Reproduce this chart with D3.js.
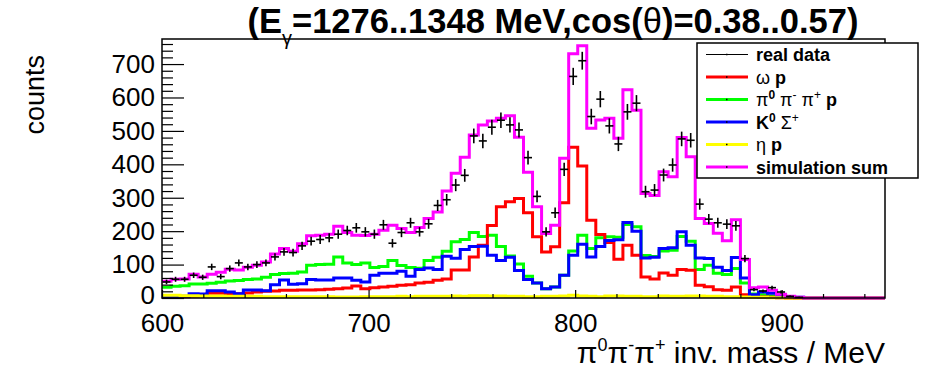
<!DOCTYPE html>
<html>
<head>
<meta charset="utf-8">
<script src="https://cdn.jsdelivr.net/npm/d3@7"></script>
<style>
  body { margin: 0; background: #fff; }
  text { font-family: "Liberation Sans", Arial, Helvetica, sans-serif; }
</style>
</head>
<body>
<svg id="chart"></svg>
<script>
// 80 bins of 4.375 MeV between 600 and 950 MeV
let binLow = 600, binHigh = 950, nBins = 80;

// real data counts per bin
let realData = [48, 56, 56, 68, 62, 93, 64, 88, 105, 93,
    100, 105, 123, 138, 136, 156, 170, 175, 180, 191,
    202, 210, 198, 191, 219, 164, 196, 225, 198, 222,
    277, 294, 338, 367, 485, 470, 511, 532, 518, 503,
    420, 304, 198, 255, 385, 663, 710, 543, 595, 515,
    461, 557, 583, 318, 323, 368, 398, 476, 472, 281,
    236, 225, 221, 216, 118, 25, 21, 31, 18, 5,
    2, 0, 0, 0, 0, 0, 0, 0, 0, 0];

// omega p simulation
let omegaP = [2, 3, 4, 6, 10, 14, 14, 12, 13, 15,
    18, 20, 21, 23, 23, 24, 24, 25, 26, 28,
    30, 36, 28, 31, 33, 35, 38, 40, 45, 47,
    53, 57, 84, 84, 123, 158, 217, 273, 288, 298,
    255, 183, 138, 153, 285, 451, 395, 233, 190, 166,
    116, 158, 128, 63, 57, 75, 68, 85, 83, 38,
    34, 25, 23, 33, 10, 5, 3, 2, 1, 0,
    0, 0, 0, 0, 0, 0, 0, 0, 0, 0];

// pi0 pi- pi+ p simulation
let threePiP = [32, 35, 37, 42, 42, 44, 47, 51, 52, 55,
    57, 62, 70, 73, 74, 78, 98, 100, 101, 123,
    105, 100, 105, 91, 94, 112, 97, 91, 89, 112,
    122, 140, 168, 175, 196, 184, 188, 154, 126, 102,
    65, 45, 28, 33, 68, 141, 188, 148, 180, 183,
    182, 220, 213, 127, 124, 141, 143, 184, 170, 85,
    98, 74, 70, 88, 45, 12, 10, 6, 3, 2,
    1, 0, 0, 0, 0, 0, 0, 0, 0, 0];

// K0 Sigma+ simulation
let kSigma = [2, 3, 5, 13, 12, 22, 22, 18, 13, 24,
    24, 22, 40, 54, 41, 43, 55, 54, 54, 60,
    60, 53, 48, 68, 74, 74, 80, 65, 85, 90,
    85, 125, 119, 145, 154, 155, 128, 112, 122, 82,
    55, 45, 28, 33, 68, 128, 161, 123, 154, 172,
    174, 226, 200, 120, 122, 148, 150, 198, 158, 120,
    118, 92, 82, 121, 60, 10, 18, 14, 7, 3,
    2, 0, 0, 0, 0, 0, 0, 0, 0, 0];

// eta p simulation
let etaP = [8, 8, 7, 7, 6, 6, 6, 5, 5, 5,
    5, 4, 4, 4, 4, 4, 4, 4, 4, 3,
    3, 3, 4, 4, 4, 4, 5, 4, 5, 5,
    5, 5, 6, 5, 7, 7, 6, 6, 5, 5,
    4, 4, 5, 5, 6, 8, 6, 5, 4, 6,
    6, 5, 5, 4, 4, 6, 5, 5, 6, 6,
    5, 5, 4, 4, 3, 2, 2, 1, 1, 0,
    0, 0, 0, 0, 0, 0, 0, 0, 0, 0];

// simulation sum
let simSum = [50, 56, 57, 71, 63, 71, 77, 86, 84, 92,
    98, 108, 132, 148, 140, 162, 186, 188, 191, 215,
    196, 188, 187, 191, 203, 218, 208, 196, 211, 238,
    257, 320, 373, 421, 488, 518, 530, 538, 545, 481,
    376, 273, 193, 218, 418, 731, 755, 508, 533, 538,
    478, 623, 562, 313, 307, 378, 363, 480, 423, 238,
    223, 194, 171, 234, 115, 31, 33, 23, 11, 5,
    2, 0, 0, 0, 0, 0, 0, 0, 0, 0];

let xMajorTicks = [600, 700, 800, 900];
let yMajorTicks = [0, 100, 200, 300, 400, 500, 600, 700];

let series = [
    {name: "threePiP", values: threePiP, color: "#00ff00"},
    {name: "omegaP", values: omegaP, color: "#ff0000"},
    {name: "kSigma", values: kSigma, color: "#0000ff"},
    {name: "etaP", values: etaP, color: "#ffff00"},
    {name: "simSum", values: simSum, color: "#ff00ff"}
];

let svgWidth = 931, svgHeight = 372;
let margin = {top: 39, left: 162, right: 46, bottom: 74};
let width = svgWidth - margin.left - margin.right;
let height = svgHeight - margin.top - margin.bottom;
let binWidth = (binHigh - binLow) / nBins;

let svg = d3.select("#chart")
    .attr("width", svgWidth)
    .attr("height", svgHeight);

let x = d3.scaleLinear().domain([binLow, binHigh]).range([margin.left, margin.left + width]);
let y = d3.scaleLinear().domain([0, 775]).range([margin.top + height, margin.top]);

// step outline of a histogram
function histPath(values) {
    let pts = values.map(function (v, i) {
        return [binLow + i * binWidth, v];
    });
    pts.push([binHigh, values[values.length - 1]]);
    return d3.line()
        .x(function (d) { return x(d[0]); })
        .y(function (d) { return y(d[1]); })
        .curve(d3.curveStepAfter)(pts);
}

series.forEach(function (s) {
    svg.append("path")
        .attr("d", histPath(s.values))
        .attr("fill", "none")
        .attr("stroke", s.color)
        .attr("stroke-width", 3);
});

// data points with error bars
let pts = svg.append("g").attr("stroke", "#000").attr("stroke-width", 1.6);
realData.forEach(function (v, i) {
    if (v <= 0) return;
    let cx = x(binLow + (i + 0.5) * binWidth);
    let err = Math.sqrt(v);
    pts.append("line")
        .attr("x1", cx).attr("x2", cx)
        .attr("y1", y(v - err)).attr("y2", y(v + err));
    pts.append("line")
        .attr("x1", cx - 4).attr("x2", cx + 4)
        .attr("y1", y(v)).attr("y2", y(v));
});

// axes, ticks pointing inside the frame
let xMinor = d3.range(600, 951, 20).filter(function (d) { return d % 100 !== 0; });
svg.append("g")
    .attr("transform", "translate(0," + (margin.top + height) + ")")
    .call(d3.axisBottom(x).tickValues(xMinor).tickSize(-4).tickFormat(""))
    .call(function (g) { g.select(".domain").remove(); });
let xAxis = svg.append("g")
    .attr("transform", "translate(0," + (margin.top + height) + ")")
    .call(d3.axisBottom(x).tickValues(xMajorTicks).tickSize(-8).tickPadding(16));
xAxis.select(".domain").remove();
xAxis.selectAll("text").attr("font-size", 26).attr("fill", "#000")
    .attr("font-family", "Liberation Sans, Arial, sans-serif");

let yMinor = d3.range(0, 775, 20).filter(function (d) { return d % 100 !== 0; });
svg.append("g")
    .attr("transform", "translate(" + margin.left + ",0)")
    .call(d3.axisLeft(y).tickValues(yMinor).tickSize(-11).tickFormat(""))
    .call(function (g) { g.select(".domain").remove(); });
let yAxis = svg.append("g")
    .attr("transform", "translate(" + margin.left + ",0)")
    .call(d3.axisLeft(y).tickValues(yMajorTicks).tickSize(-22).tickPadding(7));
yAxis.select(".domain").remove();
yAxis.selectAll("text").attr("font-size", 26).attr("fill", "#000")
    .attr("font-family", "Liberation Sans, Arial, sans-serif");
// lift the zero label a little so it clears the 600 label
yAxis.selectAll("text").filter(function (d) { return d === 0; }).attr("dy", "0.2em");
svg.selectAll(".tick line").attr("stroke", "#000").attr("stroke-width", 1.2);

// frame
svg.append("rect")
    .attr("x", margin.left).attr("y", margin.top)
    .attr("width", width).attr("height", height)
    .attr("fill", "none").attr("stroke", "#000").attr("stroke-width", 1.5);

// axis titles
svg.append("text")
    .attr("transform", "translate(44,55) rotate(-90)")
    .attr("text-anchor", "end")
    .attr("font-size", 27)
    .text("counts");

let xt = svg.append("text")
    .attr("x", margin.left + width).attr("y", 363)
    .attr("text-anchor", "end")
    .attr("font-size", 30);
xt.append("tspan").text("π");
xt.append("tspan").attr("dy", -12).attr("font-size", 18).text("0");
xt.append("tspan").attr("dy", 12).text("π");
xt.append("tspan").attr("dy", -12).attr("font-size", 18).text("-");
xt.append("tspan").attr("dy", 12).text("π");
xt.append("tspan").attr("dy", -12).attr("font-size", 18).text("+");
xt.append("tspan").attr("dy", 12).text(" inv. mass / MeV");

// title
let title = svg.append("text")
    .attr("x", 553).attr("y", 33)
    .attr("text-anchor", "middle")
    .attr("font-size", 34.5)
    .attr("font-weight", "bold");
title.append("tspan").text("(E");
title.append("tspan").attr("dy", 12).attr("font-size", 20).attr("font-weight", "normal").text("γ");
title.append("tspan").attr("dy", -12).text("=1276..1348 MeV,cos(");
title.append("tspan").attr("font-weight", "normal").text("θ");
title.append("tspan").text(")=0.38..0.57)");

// legend
let legend = svg.append("g");
legend.append("rect")
    .attr("x", 697).attr("y", 43).attr("width", 221).attr("height", 135)
    .attr("fill", "#fff").attr("stroke", "#000").attr("stroke-width", 1.5);

let legendEntries = [
    {color: "#000", width: 1, parts: [["real data", "bold"]]},
    {color: "#ff0000", width: 3, parts: [["ω", "normal"], [" p", "bold"]]},
    {color: "#00ff00", width: 3, parts: [["π", "normal"], ["0", "bold", "sup"], ["  π", "normal"], ["-", "normal", "sup"], ["  π", "normal"], ["+", "normal", "sup"], [" p", "bold"]]},
    {color: "#0000ff", width: 3, parts: [["K", "bold"], ["0", "bold", "sup"], ["  Σ", "normal"], ["+", "normal", "sup"]]},
    {color: "#ffff00", width: 3, parts: [["η", "normal"], [" p", "bold"]]},
    {color: "#ff00ff", width: 3, parts: [["simulation sum", "bold"]]}
];

legendEntries.forEach(function (e, i) {
    let cy = 54.5 + i * 22.5;
    legend.append("line")
        .attr("x1", 706).attr("x2", 748).attr("y1", cy).attr("y2", cy)
        .attr("stroke", e.color).attr("stroke-width", e.width);
    legend.append("rect")
        .attr("x", 726).attr("y", cy - 0.75).attr("width", 1.5).attr("height", 1.5)
        .attr("fill", "#000");
    let t = legend.append("text")
        .attr("x", 756).attr("y", cy + 6.5)
        .attr("font-size", 18);
    let raised = false;
    e.parts.forEach(function (p) {
        let ts = t.append("tspan").attr("font-weight", p[1]).text(p[0]);
        if (p[2] === "sup" && !raised) {
            ts.attr("dy", -7).attr("font-size", 12);
            raised = true;
        } else if (p[2] !== "sup" && raised) {
            ts.attr("dy", 7);
            raised = false;
        } else if (p[2] === "sup") {
            ts.attr("font-size", 12);
        }
    });
});
</script>
</body>
</html>
